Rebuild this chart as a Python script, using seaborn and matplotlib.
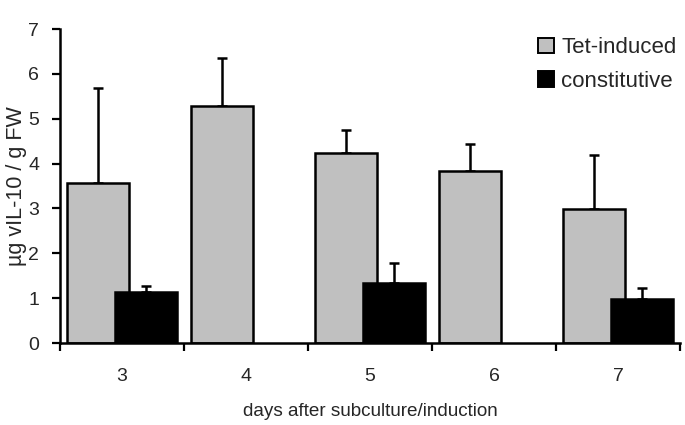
import numpy as np
import pandas as pd
import matplotlib
matplotlib.use("Agg")
import matplotlib.pyplot as plt
from matplotlib.patches import Patch
import seaborn as sns

# ---- data ----
days = ["3", "4", "5", "6", "7"]
series = ["Tet-induced", "constitutive"]
tet_mean = [3.56, 5.28, 4.24, 3.84, 2.98]
tet_err = [2.12, 1.08, 0.51, 0.60, 1.20]
con_mean = [1.14, np.nan, 1.34, np.nan, 0.98]
con_err = [0.13, np.nan, 0.45, np.nan, 0.25]
colors = {"Tet-induced": "#c0c0c0", "constitutive": "#000000"}

df = pd.DataFrame({
    "day": days * 2,
    "series": [series[0]] * len(days) + [series[1]] * len(days),
    "value": tet_mean + con_mean,
    "err": tet_err + con_err,
})

sns.set_style("white")
plt.rcParams["font.family"] = ["Liberation Sans", "DejaVu Sans"]

fig = plt.figure(figsize=(6.85, 4.25), dpi=100)
ax = fig.add_axes([60 / 685, 1 - 343 / 425, 620 / 685, 314 / 425])

sns.barplot(data=df.dropna(subset=["value"]), x="day", y="value", hue="series",
            order=days, hue_order=series, palette=colors, width=0.78,
            errorbar=None, edgecolor="black", linewidth=1.8, ax=ax)
if ax.get_legend() is not None:
    ax.get_legend().remove()

errs = {s: dict(zip(days, e)) for s, e in zip(series, [tet_err, con_err])}
for s, cont, z in zip(series, ax.containers, [2, 3]):
    xs, ys, es = [], [], []
    for bar in cont:
        cx = bar.get_x() + bar.get_width() / 2
        bar.set_width(0.5)
        bar.set_x(cx - 0.25)
        bar.set_zorder(z)
        idx = int(round(cx))
        xs.append(cx)
        ys.append(bar.get_height())
        es.append(errs[s][days[idx]])
    ax.errorbar(xs, ys, yerr=[[0] * len(es), es], fmt="none", ecolor="black",
                elinewidth=1.8, capsize=3.5, capthick=1.8, zorder=1)

ax.set_xlim(-0.5, len(days) - 0.5)
ax.set_ylim(0, 7)
ax.set_yticks(range(0, 8))
ax.set_xticks(range(len(days)))
ax.set_xticklabels(days)
ax.set_xticks(np.arange(-0.5, len(days), 1.0), minor=True)
ax.tick_params(axis="x", which="major", length=0, pad=18, labelsize=14)
ax.tick_params(axis="x", which="minor", length=6, width=1.6, direction="out",
               color="black", bottom=True)
ax.tick_params(axis="y", length=6, width=1.6, direction="out", pad=9,
               labelsize=14, color="black", left=True)

for sp in ["top", "right"]:
    ax.spines[sp].set_visible(False)
for sp in ["left", "bottom"]:
    ax.spines[sp].set_color("black")
    ax.spines[sp].set_linewidth(1.8)

ax.set_xlabel("days after subculture/induction", fontsize=13.6, labelpad=13)
ax.set_ylabel("µg vIL-10 / g FW", fontsize=15.5, labelpad=0.5)

handles = [Patch(facecolor=colors[s], edgecolor="black", linewidth=1.4, label=s)
           for s in series]
ax.legend(handles=handles, loc="upper left", bbox_to_anchor=(0.771, 0.973),
          frameon=False, fontsize=16, handlelength=0.7, handleheight=0.7,
          handletextpad=0.35, labelspacing=0.55, borderpad=0, borderaxespad=0)

fig.savefig("out.png", dpi=100)
